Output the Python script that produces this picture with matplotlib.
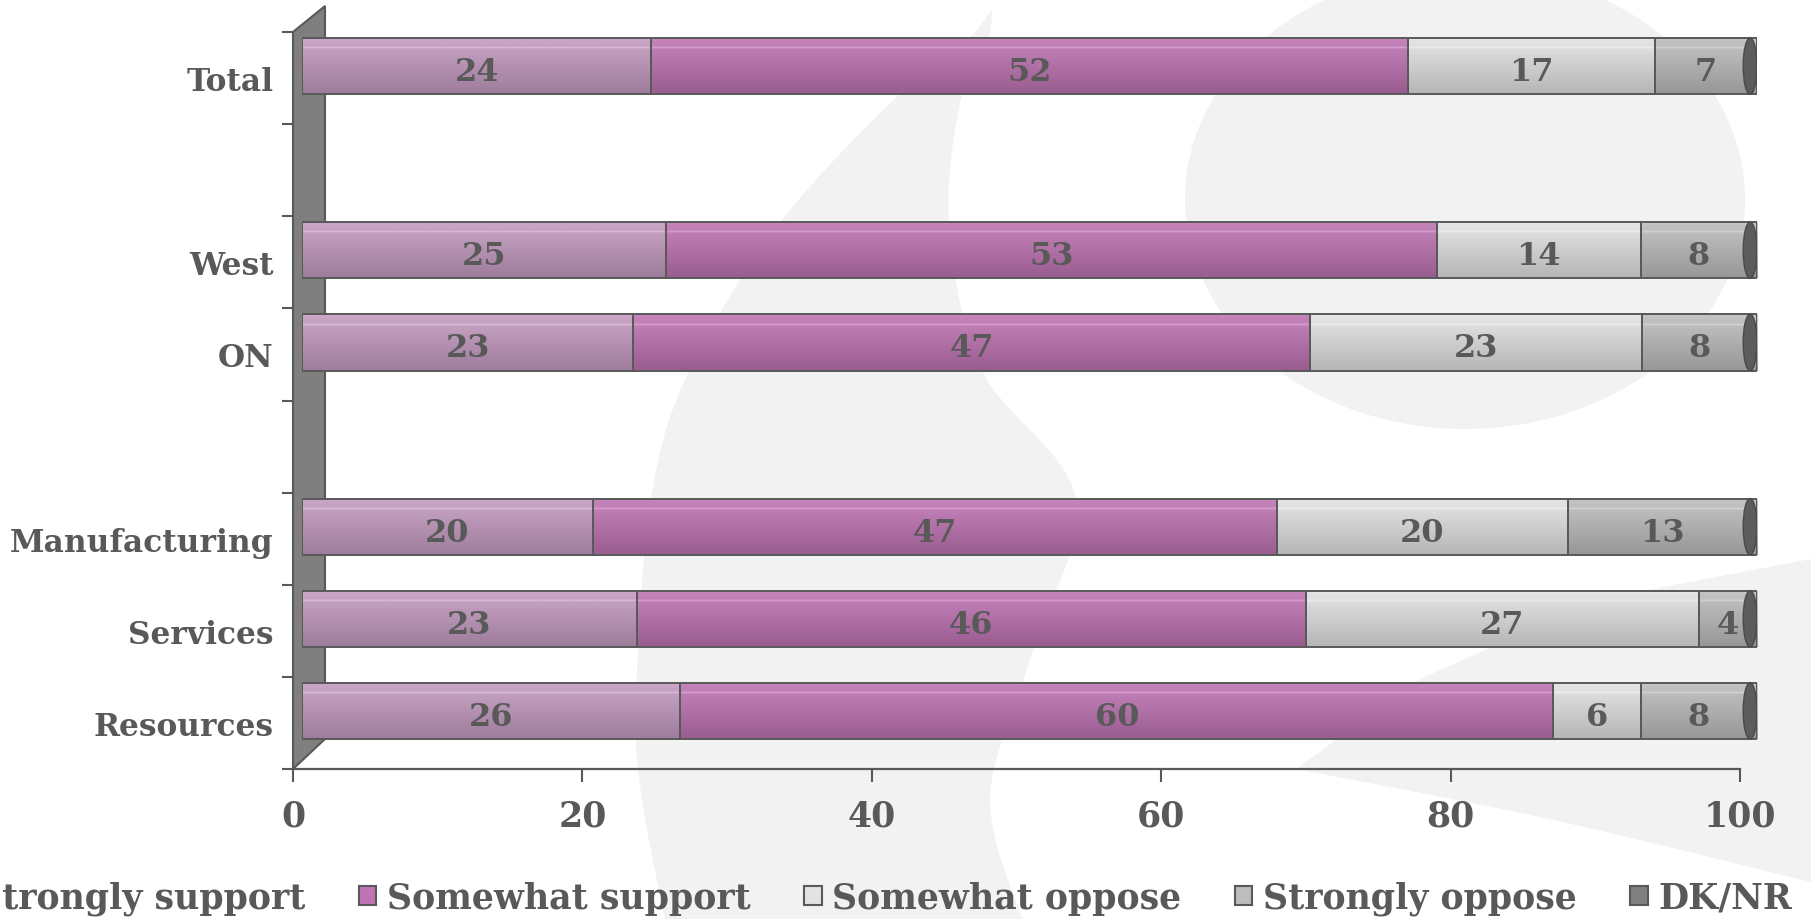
import numpy as np
import matplotlib.pyplot as plt
from matplotlib.patches import Polygon, Ellipse, Rectangle
import matplotlib.colors as mcolors

# survey results, % per row
groups = [["Total"], ["West", "ON"], ["Manufacturing", "Services", "Resources"]]
strongly_support = [24, 25, 23, 20, 23, 26]
somewhat_support = [52, 53, 47, 47, 46, 60]
somewhat_oppose = [17, 14, 23, 20, 27, 6]
strongly_oppose = [7, 8, 8, 13, 4, 8]
dk_nr = [0, 0, 0, 0, 0, 0]
series_names = ["Strongly support", "Somewhat support", "Somewhat oppose",
                "Strongly oppose", "DK/NR"]
x_ticks = [0, 20, 40, 60, 80, 100]

series = [strongly_support, somewhat_support, somewhat_oppose, strongly_oppose, dk_nr]
colors = ["#c59bc1", "#c074b4", "#e3e3e3", "#bdbdbd", "#808080"]
text_col = "#595959"
W, H = 1811, 920

plt.rcParams["font.family"] = ["DejaVu Serif"]
plt.rcParams["font.weight"] = "bold"

# one blank row between groups
categories, slots = [], []
row = 0
for g in groups:
    for name in g:
        categories.append(name)
        slots.append(row + 0.5)
        row += 1
    row += 1
n_rows = row - 1
slots = np.array(slots)

fig = plt.figure(figsize=(W / 100, H / 100), dpi=100)
fig.patch.set_facecolor("white")


def fx(x, y):
    return (x / W, 1 - y / H)


def smooth(pts, n=10):
    # catmull-rom through the control points
    p = np.array(pts, float)
    p = np.vstack([p[0], p, p[-1]])
    out = []
    for i in range(1, len(p) - 2):
        p0, p1, p2, p3 = p[i - 1], p[i], p[i + 1], p[i + 2]
        for t in np.linspace(0, 1, n, endpoint=False):
            t2, t3 = t * t, t * t * t
            out.append(0.5 * ((2 * p1) + (-p0 + p2) * t +
                              (2 * p0 - 5 * p1 + 4 * p2 - p3) * t2 +
                              (-p0 + 3 * p1 - 3 * p2 + p3) * t3))
    out.append(p[-2])
    return np.array(out)


# light grey backdrop shapes
bg = "#f2f2f2"
left_edge = [(992, 10), (968, 40), (905, 90), (783, 220), (690, 370), (651, 500),
             (636, 700), (642, 800), (666, 925)]
right_edge = [(1024, 925), (990, 800), (1030, 660), (1076, 500), (981, 370),
              (949, 220), (963, 90), (988, 40), (992, 10)]
band = np.vstack([smooth(left_edge), smooth(right_edge)])
fig.patches.append(Polygon([fx(x, y) for x, y in band], closed=True,
                           transform=fig.transFigure, fc=bg, ec="none", zorder=-2))
fig.patches.append(Ellipse(fx(1465, 200), 560 / W, 460 / H, transform=fig.transFigure,
                           fc=bg, ec="none", zorder=-2))
corner = smooth([(1296, 770), (1549, 820), (1811, 883)]).tolist()
corner += [(1811, 560), (1600, 600), (1420, 680)]
fig.patches.append(Polygon([fx(x, y) for x, y in corner], closed=True,
                           transform=fig.transFigure, fc=bg, ec="none", zorder=-2))

# main axes (floor / category axis)
ax_l, ax_r, ax_t, ax_b = 293, 1740, 33, 770
ax = fig.add_axes([ax_l / W, 1 - ax_b / H, (ax_r - ax_l) / W, (ax_b - ax_t) / H])
ax.set_facecolor("none")
ax.set_xlim(0, 100)
ax.set_ylim(n_rows, 0)
for s in ["top", "right", "left"]:
    ax.spines[s].set_visible(False)
ax.spines["bottom"].set_color(text_col)
ax.spines["bottom"].set_linewidth(1.6)
ax.set_xticks(x_ticks)
ax.set_xticklabels([str(t) for t in x_ticks])
ax.tick_params(axis="x", length=9.5, width=1.5, color=text_col, pad=12,
               labelsize=25, labelcolor=text_col)
ax.set_yticks(slots)
ax.set_yticklabels(categories)
ax.tick_params(axis="y", which="major", length=0, pad=14, labelsize=22.5,
               labelcolor=text_col)
ax.set_yticks(np.arange(n_rows + 1), minor=True)
ax.tick_params(axis="y", which="minor", length=8, width=1.5, color=text_col)

# side wall
axw, axh = ax_r - ax_l, ax_b - ax_t
dx = 32 / axw
wall = Polygon([(0, 0), (0, 1), (dx, 1 + 26 / axh), (dx, 30 / axh)], closed=True,
               transform=ax.transAxes, clip_on=False, fc="#7f7f7f", ec=text_col,
               lw=1.5, zorder=1)
ax.add_patch(wall)

# bars sit slightly in front of the wall
bx = fig.add_axes([302 / W, 1 - 758 / H, (1757 - 302) / W, (758 - 21) / H])
bx.set_facecolor("none")
bx.axis("off")

bar_h = 0.61
vals = np.array(series, float)
shares = vals / vals.sum(axis=0) * 100
lefts = np.zeros(len(categories))


def shade(c, f):
    r = np.array(mcolors.to_rgb(c))
    if f > 0:
        return r + (1 - r) * f
    return r * (1 + f)


for k, col in enumerate(colors):
    bars = bx.barh(slots, shares[k], left=lefts, height=bar_h, color="none",
                   edgecolor=text_col, linewidth=1.4, zorder=3)
    t = np.linspace(0, 1, 60)
    top, bot = shade(col, 0.12), shade(col, -0.2)
    grad = top[None, :] * (1 - t[:, None]) + bot[None, :] * t[:, None]
    grad[10:12] = shade(col, 0.28)
    for b in bars:
        if b.get_width() <= 0:
            continue
        im = bx.imshow(grad[:, None, :], aspect="auto", interpolation="bilinear",
                       extent=(b.get_x(), b.get_x() + b.get_width(),
                               b.get_y() + b.get_height(), b.get_y()), zorder=2)
        im.set_clip_path(b)
    for b, v in zip(bars, vals[k]):
        if v > 0:
            bx.text(b.get_x() + b.get_width() / 2, b.get_y() + bar_h / 2 + 0.06,
                    f"{v:g}", ha="center", va="center", fontsize=23,
                    color=text_col, zorder=5)
    lefts = lefts + shares[k]

cap_w = 0.95
for y, end in zip(slots, lefts):
    bx.add_patch(Ellipse((end - cap_w / 2, y), cap_w, bar_h, fc="#5c5c5c",
                         ec="#4a4a4a", lw=1, zorder=4))
bx.set_xlim(0, 100)
bx.set_ylim(n_rows, 0)

handles = [Rectangle((0, 0), 1, 1, fc=c, ec=text_col, lw=1.5) for c in colors]
fig.legend(handles, series_names, loc="center right", bbox_to_anchor=(1792 / W, 1 - 899 / H),
           ncol=5, frameon=False, borderpad=0, borderaxespad=0,
           prop={"family": "DejaVu Serif", "weight": "bold", "size": 25},
           handlelength=0.5, handleheight=0.5, handletextpad=0.3, columnspacing=1.55,
           labelcolor=text_col)

fig.savefig("out.png", dpi=100)
